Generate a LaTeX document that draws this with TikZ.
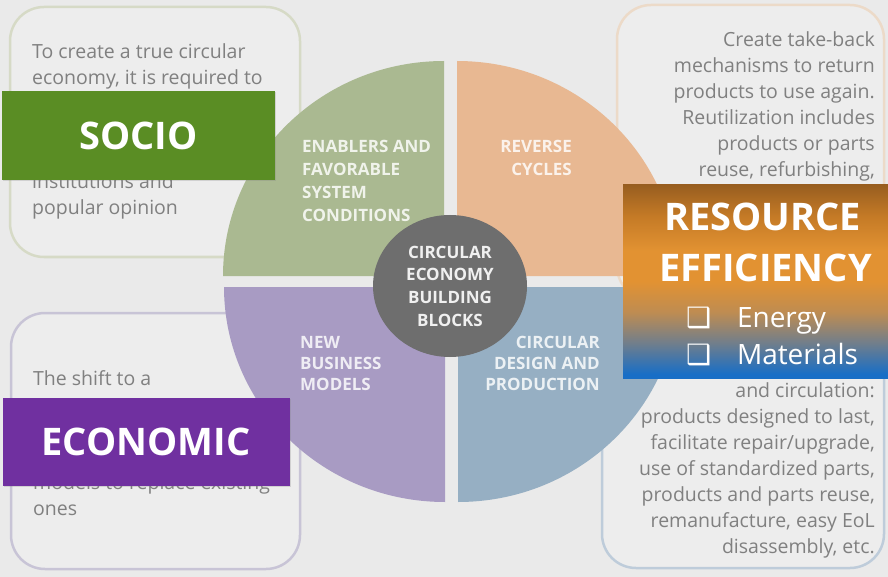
\documentclass[tikz,border=0pt]{standalone}
\usepackage{fontspec}
\setmainfont{Open Sans}
\newfontfamily\boxsym{DejaVu Sans}
\usetikzlibrary{positioning,shapes.geometric,shadows}

\definecolor{pagebg}{RGB}{234,234,234}
\definecolor{cardfill}{RGB}{237,237,237}
\definecolor{cardtext}{RGB}{128,128,128}
\definecolor{socioline}{RGB}{214,218,198}
\definecolor{econline}{RGB}{200,196,214}
\definecolor{cycleline}{RGB}{236,218,200}
\definecolor{designline}{RGB}{190,204,218}
\definecolor{enablergreen}{RGB}{170,185,145}
\definecolor{cycleorange}{RGB}{232,184,146}
\definecolor{modelpurple}{RGB}{168,155,195}
\definecolor{designblue}{RGB}{150,175,195}
\definecolor{hubgrey}{RGB}{110,110,110}
\definecolor{sociogreen}{RGB}{90,141,36}
\definecolor{econpurple}{RGB}{112,48,160}
\definecolor{resbrown}{RGB}{152,94,32}
\definecolor{resamber}{RGB}{196,122,38}
\definecolor{resorange}{RGB}{226,146,50}
\definecolor{restan}{RGB}{190,140,82}
\definecolor{resgrey}{RGB}{112,126,140}
\definecolor{resblue}{RGB}{24,110,198}

% orange-to-blue fade of the resource tag (path spans 25bp..75bp)
\pgfdeclareverticalshading{resfade}{100bp}{color(0bp)=(resblue); color(26bp)=(resblue); color(34bp)=(resgrey); color(42bp)=(restan); color(50bp)=(resorange); color(58bp)=(resorange); color(67bp)=(resamber); color(75bp)=(resbrown); color(100bp)=(resbrown)}

\begin{document}
\begin{tikzpicture}[x=1pt, y=1pt,
  card/.style={line width=2.5pt, fill=cardfill, rounded corners=34pt},
  cardtext/.style={inner sep=0pt, text=cardtext, font=\fontsize{19.5}{26}\selectfont},
  wedgetext/.style={inner sep=0pt, font=\bfseries\fontsize{17}{23}\selectfont},
  tag/.style={inner sep=0pt, text=white, font=\bfseries\fontsize{38}{38}\selectfont,
    drop shadow={shadow xshift=1pt, shadow yshift=-1pt, opacity=.25}},
  tagword/.style={inner sep=0pt, text=white, font=\bfseries\fontsize{38}{38}\selectfont},
  itemword/.style={inner sep=0pt, text=white, font=\fontsize{28}{28}\selectfont}]

  \useasboundingbox[fill=pagebg] (0,0) rectangle (888,-577);

  % Cards (text nodes sit on the baseline of their last line)
  \draw[card, draw=socioline] (10,-7) rectangle (300,-257);
  \draw[card, draw=econline] (11,-313) rectangle (300,-569);
  \draw[card, draw=cycleline] (617,-5) rectangle (884,-300);
  \draw[card, draw=designline] (602,-300) rectangle (884,-568);

  \node[cardtext, anchor=base west, align=left] (sociotext) at (32,-215)
    {To create a true circular\\ economy, it is required to\\[78pt] institutions and\\ popular opinion};
  \node[cardtext, anchor=base west, align=left] (econtext) at (33,-515)
    {The shift to a\\[78pt] models to replace existing\\ ones};
  \node[cardtext, anchor=base east, align=right] (cycletext) at (875,-177)
    {Create take-back\\ mechanisms to return\\ products to use again.\\ Reutilization includes\\ products or parts\\ reuse, refurbishing,};
  \node[cardtext, anchor=base east, align=right] (designtext) at (875,-553)
    {and circulation:\\ products designed to last,\\ facilitate repair/upgrade,\\ use of standardized parts,\\ products and parts reuse,\\ remanufacture, easy EoL\\ disassembly, etc.};

  % Wheel
  \fill[enablergreen] (444,-276) -- (223,-276) arc[start angle=180, end angle=90, x radius=221, y radius=215] -- cycle;
  \fill[cycleorange] (457,-276) -- (457,-61) arc[start angle=90, end angle=0, x radius=221, y radius=215] -- cycle;
  \fill[modelpurple] (445,-287) -- (224,-287) arc[start angle=180, end angle=270, x radius=221, y radius=215] -- cycle;
  \fill[designblue] (458,-287) -- (458,-502) arc[start angle=270, end angle=360, x radius=221, y radius=215] -- cycle;

  \node[ellipse, fill=hubgrey, minimum width=154pt, minimum height=142pt, inner sep=0pt,
    text=white!90!hubgrey, align=center, font=\bfseries\fontsize{17}{22.7}\selectfont] (hub) at (450,-286)
    {CIRCULAR\\ ECONOMY\\ BUILDING\\ BLOCKS};

  \node[wedgetext, anchor=base west, align=left, text=white!82!enablergreen] (enablers) at (302,-222)
    {ENABLERS AND\\ FAVORABLE\\ SYSTEM\\ CONDITIONS};
  \node[wedgetext, anchor=base east, align=right, text=white!82!cycleorange] (reverse) at (572,-176)
    {REVERSE\\ CYCLES};
  \node[wedgetext, anchor=base west, align=left, text=white!82!modelpurple, font=\bfseries\fontsize{17}{21}\selectfont] (newmodels) at (300,-390)
    {NEW\\ BUSINESS\\ MODELS};
  \node[wedgetext, anchor=base east, align=right, text=white!82!designblue, font=\bfseries\fontsize{17}{21}\selectfont] (design) at (600,-390)
    {CIRCULAR\\ DESIGN AND\\ PRODUCTION};

  % Tags
  \node[tag, fill=sociogreen, minimum width=273pt, minimum height=89pt] (socio) at (138.5,-135.5) {SOCIO};
  \node[tag, fill=econpurple, minimum width=287pt, minimum height=88pt] (economic) at (146,-442) {ECONOMIC};
  \node[tag, shade, shading=resfade, minimum width=265pt, minimum height=193pt] (resource) at (755.5,-281.5) {};

  \node[tagword, below=18pt of resource.north, xshift=7pt] (resword) {RESOURCE};
  \node[tagword, below=23pt of resword, xshift=3pt] (effword) {EFFICIENCY};
  \node[itemword, anchor=base west] (energy) at ([shift={(63,-143)}]resource.north west)
    {\makebox[51pt][l]{\boxsym\fontsize{28}{28}\selectfont ❑}Energy};
  \node[itemword, anchor=base west] (materials) at ([yshift=-37pt]energy.base west)
    {\makebox[51pt][l]{\boxsym\fontsize{28}{28}\selectfont ❑}Materials};

\end{tikzpicture}
\end{document}
